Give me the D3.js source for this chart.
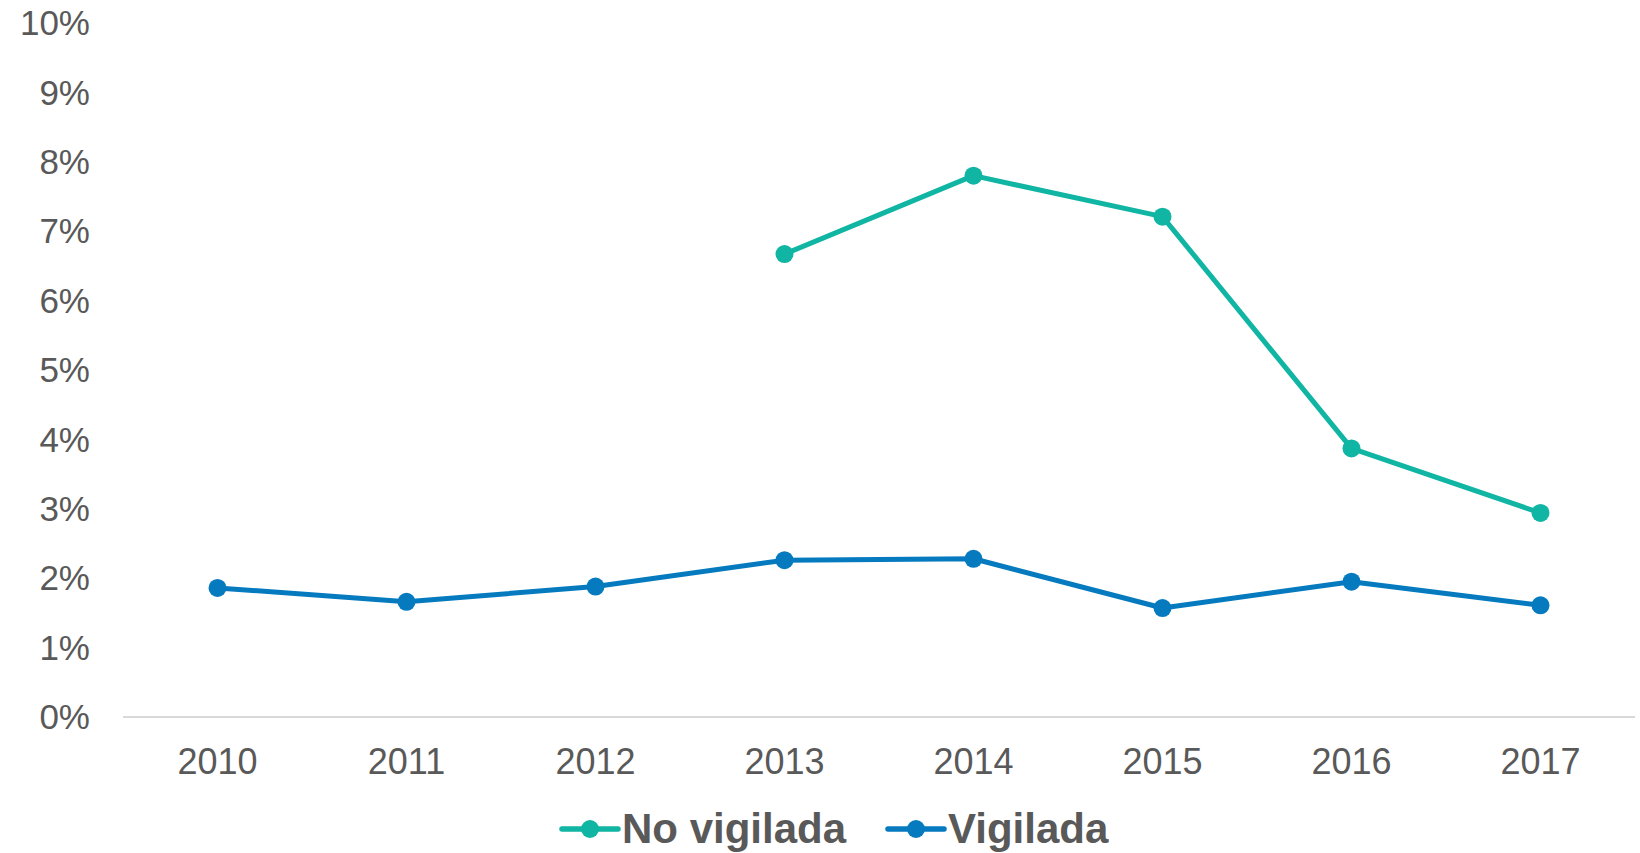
<!DOCTYPE html>
<html>
<head>
<meta charset="utf-8">
<script src="https://cdn.jsdelivr.net/npm/d3@7"></script>
<style>
  body { margin: 0; background: #fff; }
  svg { display: block; font-family: "Liberation Sans", Arial, sans-serif; }
</style>
</head>
<body>
<script>
var years = ["2010", "2011", "2012", "2013", "2014", "2015", "2016", "2017"];
var noVigilada = [null, null, null, 0.0667, 0.0780, 0.0721, 0.0387, 0.0294];
var vigilada = [0.0186, 0.0166, 0.0188, 0.0226, 0.0228, 0.0157, 0.0195, 0.0161];
var yTicks = [0, 0.01, 0.02, 0.03, 0.04, 0.05, 0.06, 0.07, 0.08, 0.09, 0.10];

var series = [
  { name: "No vigilada", values: noVigilada, color: "#10b5a3" },
  { name: "Vigilada", values: vigilada, color: "#057abf" }
];

var width = 1640, height = 853;

var svg = d3.select("body").append("svg")
  .attr("width", width)
  .attr("height", height);

var x = d3.scaleBand()
  .domain(years)
  .range([123, 1635])
  .padding(0);

var y = d3.scaleLinear()
  .domain([0, 0.10])
  .range([717, 23]);

function cx(d, i) { return x(years[i]) + x.bandwidth() / 2; }

// y labels
svg.append("g").selectAll("text")
  .data(yTicks)
  .enter().append("text")
  .attr("x", 90)
  .attr("y", function(d) { return y(d); })
  .attr("dy", "0.35em")
  .attr("text-anchor", "end")
  .attr("font-size", 35)
  .attr("fill", "#595959")
  .text(d3.format(".0%"));

// baseline
svg.append("line")
  .attr("x1", x.range()[0])
  .attr("x2", x.range()[1])
  .attr("y1", y(0))
  .attr("y2", y(0))
  .attr("stroke", "#d9d9d9")
  .attr("stroke-width", 2);

// x labels
svg.append("g").selectAll("text")
  .data(years)
  .enter().append("text")
  .attr("x", function(d) { return x(d) + x.bandwidth() / 2; })
  .attr("y", y(0) + 57)
  .attr("text-anchor", "middle")
  .attr("font-size", 36)
  .attr("fill", "#595959")
  .text(function(d) { return d; });

var line = d3.line()
  .defined(function(d) { return d != null; })
  .x(cx)
  .y(function(d) { return y(d); });

series.forEach(function(s) {
  var g = svg.append("g");
  g.append("path")
    .datum(s.values)
    .attr("fill", "none")
    .attr("stroke", s.color)
    .attr("stroke-width", 5)
    .attr("stroke-linejoin", "round")
    .attr("d", line);
  g.selectAll("circle")
    .data(s.values.map(function(v, i) { return { v: v, i: i }; }).filter(function(d) { return d.v != null; }))
    .enter().append("circle")
    .attr("cx", function(d) { return cx(d.v, d.i); })
    .attr("cy", function(d) { return y(d.v); })
    .attr("r", 9)
    .attr("fill", s.color);
});

// legend
var legendX = [562, 888];
var legend = svg.append("g").selectAll("g")
  .data(series)
  .enter().append("g")
  .attr("transform", function(d, i) { return "translate(" + legendX[i] + ",829)"; });

legend.append("line")
  .attr("x1", 0).attr("x2", 56)
  .attr("stroke", function(d) { return d.color; })
  .attr("stroke-width", 5.5)
  .attr("stroke-linecap", "round");

legend.append("circle")
  .attr("cx", 28)
  .attr("r", 9)
  .attr("fill", function(d) { return d.color; });

legend.append("text")
  .attr("x", 60)
  .attr("y", 14)
  .attr("font-size", 42)
  .attr("font-weight", "bold")
  .attr("fill", "#595959")
  .text(function(d) { return d.name; });
</script>
</body>
</html>
